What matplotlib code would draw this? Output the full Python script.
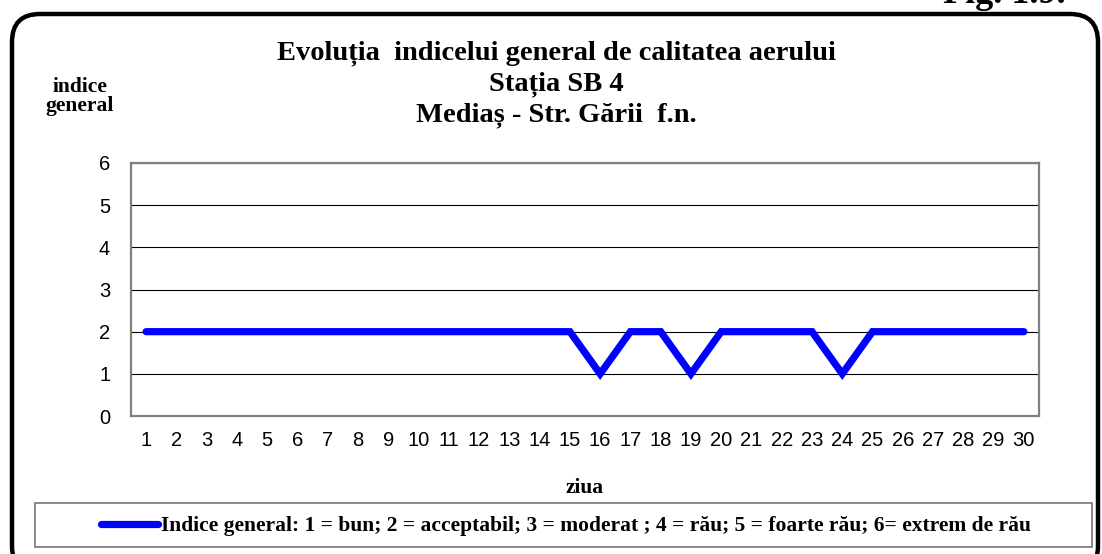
import matplotlib
matplotlib.use('Agg')
import matplotlib.pyplot as plt
from matplotlib.patches import FancyBboxPatch, Rectangle

# date
zile = list(range(1, 31))
indice = [2, 2, 2, 2, 2, 2, 2, 2, 2, 2, 2, 2, 2, 2, 2,
          1, 2, 2, 1, 2, 2, 2, 2, 1, 2, 2, 2, 2, 2, 2]
y_ticks = [0, 1, 2, 3, 4, 5, 6]

titlu = 'Evoluția  indicelui general de calitatea aerului\nStația SB 4\nMediaș - Str. Gării  f.n.'
eticheta_legenda = ('Indice general: 1 = bun; 2 = acceptabil; 3 = moderat ; 4 = rău; '
                    '5 = foarte rău; 6= extrem de rău')

W, H = 1102, 554
fig = plt.figure(figsize=(W / 100, H / 100), dpi=100)
serif = 'Liberation Serif'
sans = 'Liberation Sans'

ax = fig.add_axes([131 / W, 1 - 416 / H, (1039 - 131) / W, (416 - 163) / H])
linie, = ax.plot(zile, indice, color='#0000ff', lw=5.2, solid_capstyle='round',
                 solid_joinstyle='miter', label=eticheta_legenda, zorder=3)
ax.set_xlim(0.5, 30.5)
ax.set_ylim(0, 6)
ax.set_xticks(zile)
ax.set_yticks(y_ticks)
ax.tick_params(length=0, labelsize=14.5)
ax.tick_params(axis='x', pad=11)
ax.tick_params(axis='y', pad=15)
for lab in ax.get_xticklabels() + ax.get_yticklabels():
    lab.set_fontfamily(sans)
ax.grid(axis='y', color='black', lw=0.8)
ax.set_axisbelow(True)
for s in ax.spines.values():
    s.set_color('#808080')
    s.set_linewidth(1.6)

# titluri
fig.text(556 / W, 1 - 40 / H, titlu, ha='center', va='top', fontsize=20.5,
         fontweight='bold', family=serif, linespacing=1.3,
         multialignment='center')
fig.text(80 / W, 1 - 77 / H, 'indice\ngeneral', ha='center', va='top', fontsize=15.5,
         fontweight='bold', family=serif, linespacing=0.95)
fig.text(585 / W, 1 - 488 / H, 'ziua', ha='center', va='center', fontsize=15.5,
         fontweight='bold', family=serif)
fig.text(1066 / W, 1 - 3 / H, 'Fig. 1.9.', ha='right', va='baseline', fontsize=26,
         fontweight='bold', family=serif)

# chenar legenda
fig.patches.append(Rectangle((35 / W, 1 - 547 / H), (1092 - 35) / W, (547 - 503) / H,
                             transform=fig.transFigure, fill=False, ec='#808080', lw=1.3))
fig.legend(handles=[linie], loc='center', bbox_to_anchor=(566 / W, 1 - 526 / H),
           frameon=False, prop={'family': serif, 'weight': 'bold', 'size': 15.5},
           handlelength=2.65, handletextpad=0.15)

# chenar rotunjit exterior
fig.patches.append(FancyBboxPatch((0.12, -0.2), 10.86, 5.6, boxstyle='round,pad=0,rounding_size=0.28',
                                  transform=fig.dpi_scale_trans, fill=False, ec='black', lw=3.2))

fig.savefig('out.png', dpi=100)
